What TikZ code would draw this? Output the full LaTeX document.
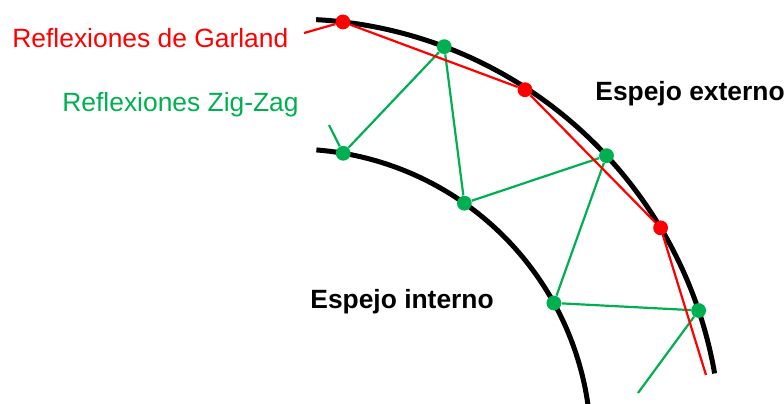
\documentclass[tikz,border=0pt]{standalone}
\usepackage{fontspec}
\setmainfont{Liberation Sans}
\usetikzlibrary{calc}
\definecolor{garred}{RGB}{255,0,0}
\definecolor{zzgreen}{RGB}{0,176,80}
\newcommand{\espejopt}[4]{%
  \node[refdot,fill=#4] (#1) at ($(c)+(#2:#3)$) {};
}

\begin{document}
\begin{tikzpicture}[x=.5pt,y=.5pt,font=\fontsize{13.2}{15}\selectfont,
    refdot/.style={circle,inner sep=0pt,minimum size=7.4pt,draw=none},
    espejo/.style={line width=2.5pt},
    rayo/.style={line width=1.1pt},
    rotulo/.style={anchor=base west,inner sep=0pt}]
    \useasboundingbox (0,0) rectangle (784,403);
    \coordinate (c) at (293,-44);
    % espejos
    \draw[espejo] ($(c)+(86.9:428)$) arc[start angle=86.9,end angle=9.9,radius=428];
    \draw[espejo] ($(c)+(85.5:298)$) arc[start angle=85.5,end angle=6,radius=298];
    % puntos de reflexion
    \espejopt{r1}{83.3}{428}{garred}
    \espejopt{r2}{57.0}{426}{garred}
    \espejopt{r3}{30.8}{428}{garred}
    \espejopt{g1}{69.3}{428}{zzgreen}
    \espejopt{g3}{42.9}{428}{zzgreen}
    \espejopt{g5}{18.6}{428}{zzgreen}
    \espejopt{g0}{80.3}{298}{zzgreen}
    \espejopt{g2}{54.9}{298}{zzgreen}
    \espejopt{g4}{28.9}{298}{zzgreen}
    \coordinate (g-in) at (329,278);
    \coordinate (g-out) at (638,10);
    \coordinate (r-in) at (304,370);
    \coordinate (r-out) at (706,28);
    % rayos
    \draw[rayo,zzgreen] (g-in) -- (g0) -- (g1) -- (g2) -- (g3) -- (g4) -- (g5) -- (g-out);
    \draw[rayo,garred] (r-in) -- (r1) -- (r2) -- (r3) -- (r-out);
    % rotulos
    \node[rotulo,garred] (tgar) at (12,356) {Reflexiones de Garland};
    \node[rotulo,zzgreen] (tzz) at (62,292) {Reflexiones Zig-Zag};
    \node[rotulo,font=\fontsize{13.2}{15}\selectfont\bfseries] (text) at (595,303) {Espejo externo};
    \node[rotulo,font=\fontsize{13.2}{15}\selectfont\bfseries] (tint) at (310,95) {Espejo interno};
  \end{tikzpicture}
\end{document}
